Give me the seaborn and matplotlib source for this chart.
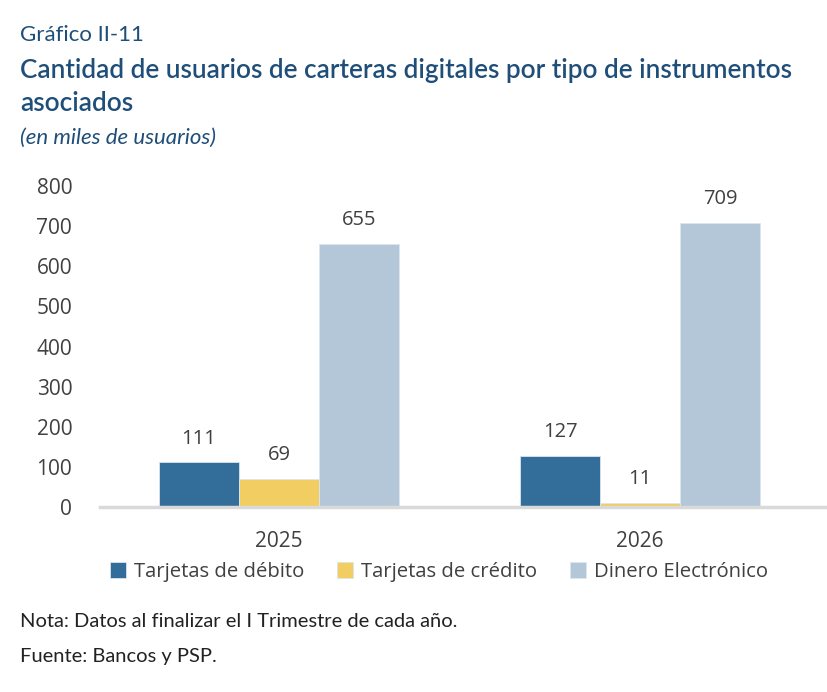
import matplotlib
matplotlib.use("Agg")
import matplotlib.pyplot as plt
import seaborn as sns
import pandas as pd

# datos del grafico (miles de usuarios)
anios = ["2025", "2026"]
tipos = ["Tarjetas de débito", "Tarjetas de crédito", "Dinero Electrónico"]
debito = [111, 127]
credito = [69, 11]
dinero = [655, 709]
colores = ["#336d99", "#f2cd62", "#b3c7d9"]

df = pd.DataFrame({
    "anio": anios * 3,
    "tipo": [tipos[0]] * 2 + [tipos[1]] * 2 + [tipos[2]] * 2,
    "valor": debito + credito + dinero,
})

sns.set_style("white")
plt.rcParams["font.family"] = ["Open Sans", "DejaVu Sans"]

fig = plt.figure(figsize=(8.28, 6.92), dpi=100)
ax = fig.add_axes([0.1208, 0.2673, 0.8792, 0.4639])

sns.barplot(data=df, x="anio", y="valor", hue="tipo", hue_order=tipos,
            palette=colores, saturation=1, width=0.665, ax=ax, legend=True,
            edgecolor="#dce6ef", linewidth=0.6)

for cont in ax.containers:
    ax.bar_label(cont, fmt="%d", padding=10, fontsize=14.5, color="#404040",
                 clip_on=False)

ax.set_ylim(0, 800)
ax.set_xlim(-0.496, 1.52)
ax.set_yticks(range(0, 801, 100))
ax.set_xlabel("")
ax.set_ylabel("")
ax.tick_params(axis="y", labelsize=15, colors="#404040", length=0, pad=20)
ax.tick_params(axis="x", labelsize=15, colors="#404040", length=0, pad=17)
for s in ["top", "right", "left"]:
    ax.spines[s].set_visible(False)
ax.spines["bottom"].set_color("#d9d9d9")
ax.spines["bottom"].set_linewidth(2.5)

handles, labels = ax.get_legend_handles_labels()
ax.legend_.remove()
fig.legend(handles, labels, loc="center", bbox_to_anchor=(0.53, 0.173),
           ncol=3, frameon=False, fontsize=14.6, handlelength=0.8,
           handleheight=0.8, handletextpad=0.4, columnspacing=1.6,
           labelcolor="#404040")

azul = "#1f4e79"
fig.text(0.024, 0.949, "Gráfico II-11", fontsize=16, color=azul,
         va="center", family=["Lato", "DejaVu Sans"])
fig.text(0.024, 0.898, "Cantidad de usuarios de carteras digitales por tipo de instrumentos",
         fontsize=18.8, color=azul, va="center", fontweight="semibold",
         family=["Lato", "DejaVu Sans"])
fig.text(0.024, 0.851, "asociados", fontsize=18.8, color=azul, va="center",
         fontweight="semibold", family=["Lato", "DejaVu Sans"])
fig.text(0.024, 0.801, "(en miles de usuarios)", fontsize=16, color=azul,
         va="center", style="italic", family=["Lato", "DejaVu Sans"])
fig.text(0.024, 0.102, "Nota: Datos al finalizar el I Trimestre de cada año.",
         fontsize=14.5, color="#222222", va="center", family=["Lato", "DejaVu Sans"])
fig.text(0.024, 0.052, "Fuente: Bancos y PSP.", fontsize=14.5, color="#222222",
         va="center", family=["Lato", "DejaVu Sans"])

fig.savefig("out.png", dpi=100, facecolor="white")
